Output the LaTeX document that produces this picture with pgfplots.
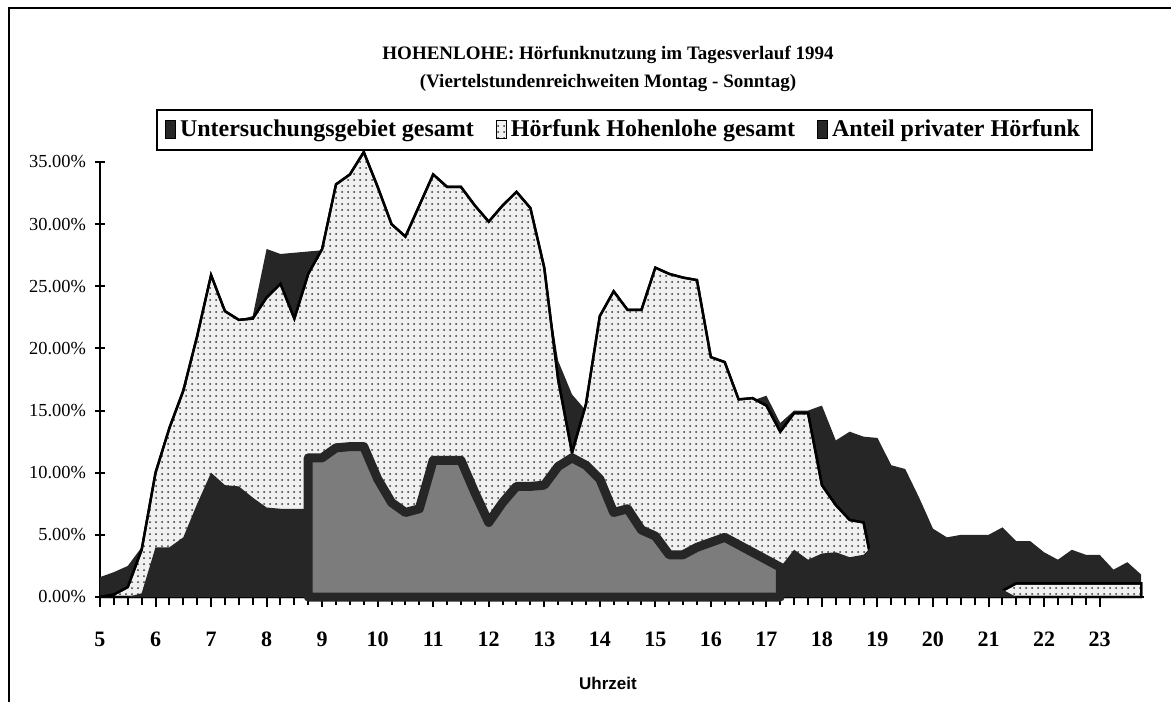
\documentclass[border=0pt]{standalone}
\usepackage{fontspec}
\setmainfont{Liberation Serif}
\newfontfamily\sansfont{Liberation Sans}
\usepackage{pgfplots}
\pgfplotsset{compat=1.18}
\usetikzlibrary{patterns}
\definecolor{darkfill}{HTML}{262626}
\definecolor{midgray}{HTML}{7C7C7C}
\definecolor{dotbg}{HTML}{F0F0F0}
\begin{document}
\begin{tikzpicture}
\useasboundingbox (-50pt,-52.5pt) rectangle (535.5pt,298.5pt);
\draw[line width=1.2pt] (-45.5pt,-52.5pt) -- (-45.5pt,294.5pt) -- (535.5pt,294.5pt);
\begin{axis}[
  at={(0,0)}, anchor=south west,
  scale only axis, width=522pt, height=217.5pt,
  xmin=5, xmax=23.8, ymin=0, ymax=35,
  axis x line=bottom, axis y line=left,
  axis line style={-, line width=1pt},
  clip=false,
  xtick={5,...,23}, minor x tick num=3,
  ytick={0,5,...,35},
  yticklabels={0.00\%,5.00\%,10.00\%,15.00\%,20.00\%,25.00\%,30.00\%,35.00\%},
  xtick align=outside, ytick align=center,
  major tick length=5pt, minor tick length=4pt,
  tick style={line width=1pt, black},
  /pgf/number format/assume math mode=true,
  xticklabel style={font=\fontsize{11}{13}\selectfont\bfseries, yshift=-9pt},
  yticklabel style={font=\fontsize{9.2}{11}\selectfont, xshift=-1pt},
  title={HOHENLOHE: Hörfunknutzung im Tagesverlauf 1994\\(Viertelstundenreichweiten Montag - Sonntag)},
  title style={at={(0.4866,1)}, anchor=center, yshift=40.5pt, align=center, font=\fontsize{9.5}{14}\selectfont\bfseries},
  xlabel={Uhrzeit},
  x label style={at={(axis description cs:0.4866,0)}, anchor=center, yshift=-43pt, font=\fontsize{8.5}{10}\selectfont\sansfont\bfseries},
  legend style={at={(0.5024,1.0736)}, anchor=center, legend columns=3, draw=black, line width=1pt,
    font=\fontsize{12}{14}\selectfont\bfseries, inner xsep=4pt, inner ysep=3pt,
    /tikz/every even column/.append style={column sep=9pt}},
  legend cell align=left,
  legend image code/.code={\filldraw[#1, line width=0.5pt] (0pt,-4.5pt) rectangle (5pt,4.5pt);},
]
% Untersuchungsgebiet gesamt
\addplot[fill=darkfill, draw=none] coordinates {
(5.00,1.6)(5.25,2.0)(5.50,2.5)(5.75,4.0)(6.00,10.2)(6.25,13.8)(6.50,16.8)(6.75,21.2)
(7.00,26.0)(7.25,23.0)(7.50,22.3)(7.75,22.6)(8.00,28.0)(8.25,27.6)(8.50,27.7)(8.75,27.8)
(9.00,27.9)(9.25,32.7)(9.50,33.5)(9.75,35.3)(10.00,32.5)(10.25,29.5)(10.50,28.5)(10.75,31.0)
(11.00,33.5)(11.25,32.5)(11.50,32.5)(11.75,31.0)(12.00,29.7)(12.25,31.0)(12.50,32.1)(12.75,30.8)
(13.00,26.0)(13.25,19.0)(13.50,16.3)(13.75,15.0)(14.00,22.0)(14.25,24.0)(14.50,22.6)(14.75,22.6)
(15.00,26.0)(15.25,25.5)(15.50,25.2)(15.75,25.0)(16.00,18.8)(16.25,18.4)(16.50,15.4)(16.75,15.8)
(17.00,16.2)(17.25,14.0)(17.50,15.0)(17.75,15.0)(18.00,15.4)(18.25,12.6)(18.50,13.3)(18.75,12.9)
(19.00,12.8)(19.25,10.6)(19.50,10.3)(19.75,8.0)(20.00,5.5)(20.25,4.8)(20.50,5.0)(20.75,5.0)
(21.00,5.0)(21.25,5.6)(21.50,4.5)(21.75,4.5)(22.00,3.6)(22.25,3.0)(22.50,3.8)(22.75,3.4)
(23.00,3.4)(23.25,2.2)(23.50,2.8)(23.75,1.8)
} \closedcycle;
% Hoerfunk Hohenlohe gesamt
\addplot[fill=dotbg, draw=black, line width=1.2pt, postaction={pattern=dots, pattern color=black!80}] coordinates {
(5.00,0)(5.25,0.2)(5.50,0.8)(5.75,3.8)(6.00,10.0)(6.25,13.6)(6.50,16.6)(6.75,21.0)
(7.00,25.9)(7.25,23.0)(7.50,22.3)(7.75,22.4)(8.00,24.1)(8.25,25.2)(8.50,22.4)(8.75,26.0)
(9.00,28.0)(9.25,33.2)(9.50,34.0)(9.75,35.8)(10.00,33.0)(10.25,30.0)(10.50,29.0)(10.75,31.5)
(11.00,34.0)(11.25,33.0)(11.50,33.0)(11.75,31.5)(12.00,30.2)(12.25,31.5)(12.50,32.6)(12.75,31.3)
(13.00,26.5)(13.25,17.5)(13.50,11.6)(13.75,15.5)(14.00,22.6)(14.25,24.6)(14.50,23.1)(14.75,23.1)
(15.00,26.5)(15.25,26.0)(15.50,25.7)(15.75,25.5)(16.00,19.3)(16.25,18.9)(16.50,15.9)(16.75,16.0)
(17.00,15.4)(17.25,13.3)(17.50,14.8)(17.75,14.8)(18.00,9.0)(18.25,7.4)(18.50,6.2)(18.75,6.0)
(19.00,0.5)(19.25,0.5)(19.50,0.5)(19.75,0.5)(20.00,0.5)(20.25,0.5)(20.50,0.5)(20.75,0.5)
(21.00,0.5)(21.25,0.5)(21.50,1.1)(21.75,1.1)(22.00,1.1)(22.25,1.1)(22.50,1.1)(22.75,1.1)
(23.00,1.1)(23.25,1.1)(23.50,1.1)(23.75,1.1)
} \closedcycle;
% Anteil privater Hoerfunk (three segments of one series)
\addplot[fill=darkfill, draw=none] coordinates {
(5.00,0)(5.25,0)(5.50,0)(5.75,0.3)(6.00,4.0)(6.25,4.0)(6.50,4.8)(6.75,7.5)
(7.00,10.0)(7.25,9.0)(7.50,8.9)(7.75,8.0)(8.00,7.2)(8.25,7.1)(8.50,7.1)(8.75,7.1)
} \closedcycle;
\addplot[forget plot, fill=midgray, draw=darkfill, line width=4.5pt, line join=round] coordinates {
(8.75,11.2)(9.00,11.2)(9.25,12.0)(9.50,12.1)(9.75,12.1)(10.00,9.5)(10.25,7.6)(10.50,6.8)
(10.75,7.1)(11.00,11.0)(11.25,11.0)(11.50,11.0)(11.75,8.4)(12.00,6.0)(12.25,7.6)(12.50,8.9)
(12.75,8.9)(13.00,9.0)(13.25,10.5)(13.50,11.2)(13.75,10.6)(14.00,9.5)(14.25,6.8)(14.50,7.1)
(14.75,5.4)(15.00,4.9)(15.25,3.4)(15.50,3.4)(15.75,4.0)(16.00,4.4)(16.25,4.8)(16.50,4.2)
(16.75,3.6)(17.00,3.0)(17.25,2.4)
} \closedcycle;
\addplot[forget plot, fill=darkfill, draw=none] coordinates {
(17.25,2.4)(17.50,3.8)(17.75,3.0)(18.00,3.5)(18.25,3.6)(18.50,3.2)(18.75,3.4)(19.00,4.5)
(19.25,4.0)(19.50,3.0)(19.75,2.0)(20.00,1.2)(20.25,0.6)(20.50,1.2)(20.75,2.4)(21.00,1.0)
(21.25,0.6)(21.50,0)(21.75,0)(22.00,0)(22.25,0)(22.50,0)(22.75,0)(23.00,0)
(23.25,0)(23.50,0)(23.75,0)
} \closedcycle;
\legend{Untersuchungsgebiet gesamt, Hörfunk Hohenlohe gesamt, Anteil privater Hörfunk}
\end{axis}
\end{tikzpicture}
\end{document}
